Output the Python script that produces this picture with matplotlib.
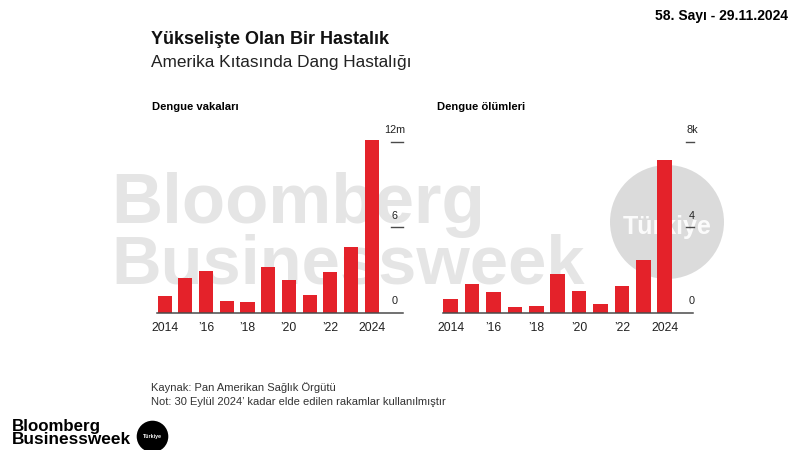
import matplotlib
matplotlib.use("Agg")
import matplotlib.pyplot as plt
from matplotlib.patches import Circle
from matplotlib import transforms

plt.rcParams['font.family'] = ['Liberation Sans', 'DejaVu Sans']

# data
years = [2014, 2015, 2016, 2017, 2018, 2019, 2020, 2021, 2022, 2023, 2024]
cases_m = [1.13, 2.39, 2.89, 0.80, 0.73, 3.17, 2.30, 1.22, 2.82, 4.60, 12.10]
deaths_k = [0.64, 1.33, 0.95, 0.28, 0.31, 1.81, 1.00, 0.41, 1.25, 2.44, 7.15]
xtick_years = [2014, 2016, 2018, 2020, 2022, 2024]
xtick_labels = ['2014', '\u201916', '\u201918', '\u201920', '\u201922', '2024']
cases_ticks = [0, 6, 12]
cases_tick_labels = ['0', '6', '12m']
deaths_ticks = [0, 4, 8]
deaths_tick_labels = ['0', '4', '8k']

RED = '#e4222a'
AXC = '#4a4a4a'

fig = plt.figure(figsize=(8, 4.5), dpi=100)

# background watermark layer in pixel coordinates
bg = fig.add_axes([0, 0, 1, 1])
bg.set_xlim(0, 800)
bg.set_ylim(450, 0)
bg.axis('off')
bg.text(111, 223, 'Bloomberg', fontsize=51, fontweight='bold', color='black',
        alpha=0.10, ha='left', va='baseline')
bg.text(111, 283, 'Businessweek', fontsize=49.5, fontweight='bold', color='black',
        alpha=0.10, ha='left', va='baseline')
bg.add_patch(Circle((667, 222), 57, facecolor='black', alpha=0.14, lw=0))
bg.text(667, 227, 'Türkiye', fontsize=18, fontweight='bold', color='white',
        alpha=0.9, ha='center', va='center')

# footer logo
bg.text(12, 430.5, 'Bloomberg', fontsize=12.2, fontweight='bold', ha='left', va='baseline')
bg.text(12, 444, 'Businessweek', fontsize=12.4, fontweight='bold', ha='left', va='baseline')
bg.add_patch(Circle((152.5, 436.5), 15.8, facecolor='black', lw=0))
bg.text(152.5, 436.5, 'Türkiye', fontsize=3.8, fontweight='bold', color='white',
        ha='center', va='center')


def panel(rect, xlim, ylim, values, ticks, tick_labels, base_x, dash_x, label_x, title):
    ax = fig.add_axes(rect)
    ax.patch.set_alpha(0)
    ax.bar(years, values, width=0.68, color=RED, zorder=3)
    ax.set_xlim(*xlim)
    ax.set_ylim(*ylim)
    for s in ax.spines.values():
        s.set_visible(False)
    ax.set_yticks([])
    ax.set_xticks(xtick_years)
    ax.set_xticklabels(xtick_labels, fontsize=8.8, color='#222222')
    ax.tick_params(axis='x', length=0, pad=7)
    ax.plot(base_x, [0, 0], color=AXC, lw=1.1, clip_on=False, zorder=4)
    off = transforms.offset_copy(ax.transData, fig=fig, x=0, y=8, units='points')
    for t, lab in zip(ticks, tick_labels):
        if t > 0:
            ax.plot(dash_x, [t, t], color=AXC, lw=1.0, clip_on=False, zorder=4)
        ax.text(label_x, t, lab, transform=off, fontsize=7.8, color='#222222',
                ha='center', va='center')
    fig.text(rect[0] + 0.002, 1 - 107 / 450, title, fontsize=8.1, fontweight='bold',
             ha='left', va='center')
    return ax


bottom = (450 - 312.5) / 450
height = 179.5 / 450
panel([150 / 800, bottom, 255 / 800, height], (2013.29, 2025.61), (0, 12.6),
      cases_m, cases_ticks, cases_tick_labels,
      [2013.63, 2025.53], [2024.95, 2025.53], 2025.10, 'Dengue vakaları')
panel([435 / 800, bottom, 265 / 800, height], (2013.27, 2025.65), (0, 8.4),
      deaths_k, deaths_ticks, deaths_tick_labels,
      [2013.64, 2025.33], [2024.99, 2025.36], 2025.28, 'Dengue ölümleri')

# titles and notes
fig.text(151 / 800, 1 - 39 / 450, 'Yükselişte Olan Bir Hastalık', fontsize=13,
         fontweight='bold', ha='left', va='center', color='#111111')
fig.text(151 / 800, 1 - 62 / 450, 'Amerika Kıtasında Dang Hastalığı', fontsize=12.4,
         ha='left', va='center', color='#222222')
fig.text(151 / 800, 1 - 388 / 450, 'Kaynak: Pan Amerikan Sağlık Örgütü', fontsize=8,
         ha='left', va='center', color='#333333')
fig.text(151 / 800, 1 - 402 / 450,
         'Not: 30 Eylül 2024\u2019 kadar elde edilen rakamlar kullanılmıştır', fontsize=8,
         ha='left', va='center', color='#333333')
fig.text(788 / 800, 1 - 16 / 450, '58. Sayı - 29.11.2024', fontsize=10,
         fontweight='bold', ha='right', va='center')

fig.savefig('out.png', dpi=100, facecolor='white')
